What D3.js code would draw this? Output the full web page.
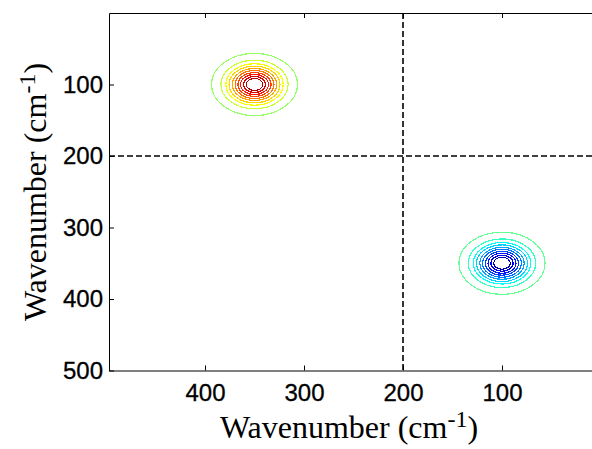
<!DOCTYPE html>
<html><head><meta charset="utf-8">
<script src="https://cdn.jsdelivr.net/npm/d3@7"></script>
<style>body{margin:0;background:#fff}svg{display:block}</style>
</head><body>
<script>
// ---- data ----
const xTicks = [400, 300, 200, 100];
const yTicks = [100, 200, 300, 400, 500];
const peakX = [350, 100];          // wavenumber (horizontal)
const peakY = [100, 350];          // wavenumber (vertical)
const peakSign = [1, -1];          // positive / negative correlation peak
const ringRadii = [43.5, 34, 29, 25.7, 22.4, 19.6, 16.7, 14.1, 11.2, 8.4]; // cm^-1
const ringLevels = [0.048, 0.143, 0.238, 0.333, 0.429, 0.524, 0.619, 0.714, 0.810, 0.905];
const crossX = [200];
const crossY = [200];

const W = 592, H = 449;
const svg = d3.select("body").append("svg").attr("width", W).attr("height", H);

const x = d3.scaleLinear().domain([497, 0]).range([109, 601]);
const y = d3.scaleLinear().domain([0, 500]).range([13, 370.5]);

const jet = d3.scaleLinear()
  .domain([-1, -0.75, -0.25, 0.25, 0.75, 1])
  .range(["#000080", "#0000ff", "#00ffff", "#ffff00", "#ff0000", "#800000"])
  .interpolate(d3.interpolateRgb);

// contour rings
const rings = [];
peakX.forEach((px, i) => {
  ringRadii.forEach((r, j) => {
    rings.push({px, py: peakY[i], r, level: peakSign[i] * ringLevels[j]});
  });
});
svg.append("g").selectAll("ellipse").data(rings).join("ellipse")
  .attr("cx", d => x(d.px))
  .attr("cy", d => y(d.py))
  .attr("rx", d => Math.abs(x(d.px + d.r) - x(d.px)))
  .attr("ry", d => Math.abs(y(d.py + d.r) - y(d.py)))
  .attr("fill", "none")
  .attr("stroke", d => jet(d.level))
  .attr("stroke-width", 1.2)
  .attr("shape-rendering", "crispEdges");

// dashed cross lines
svg.append("g").selectAll("line.v").data(crossX).join("line")
  .attr("x1", d => x(d)).attr("x2", d => x(d))
  .attr("y1", y(0)).attr("y2", y(500))
  .attr("stroke", "#000").attr("stroke-width", 1.6).attr("stroke-dasharray", "6,3");
svg.append("g").selectAll("line.h").data(crossY).join("line")
  .attr("y1", d => y(d)).attr("y2", d => y(d))
  .attr("x1", x(497)).attr("x2", x(0))
  .attr("stroke", "#000").attr("stroke-width", 1.6).attr("stroke-dasharray", "6,3");

// axes
const fontTick = "Arial, 'Liberation Sans', sans-serif";
const gx = svg.append("g").attr("transform", `translate(0,${y(500)})`)
  .call(d3.axisBottom(x).tickValues(xTicks).tickSizeInner(-5).tickSizeOuter(0).tickPadding(13));
const gt = svg.append("g").attr("transform", `translate(0,${y(0)})`)
  .call(d3.axisTop(x).tickValues(xTicks).tickSizeInner(-5).tickSizeOuter(0).tickFormat(""));
const gy = svg.append("g").attr("transform", `translate(${x(497)},0)`)
  .call(d3.axisLeft(y).tickValues(yTicks).tickSizeInner(-5).tickSizeOuter(0).tickPadding(6));
[gx, gt, gy].forEach(g => {
  g.selectAll("path").attr("stroke", "#000").attr("stroke-width", 1);
  g.selectAll("line").attr("stroke", "#000");
  g.selectAll("text").attr("font-family", fontTick).attr("font-size", 24).attr("fill", "#000")
    .attr("stroke", "#000").attr("stroke-width", 0.3);
});

// axis titles
const fontTitle = "'Times New Roman', 'Liberation Serif', serif";
function title(sel) {
  sel.attr("text-anchor", "middle").attr("font-family", fontTitle).attr("font-size", 32).attr("fill", "#000");
  sel.append("tspan").text("Wavenumber (cm");
  sel.append("tspan").attr("font-size", 24).attr("dy", -11).text("-1");
  sel.append("tspan").attr("dy", 11).text(")");
}
svg.append("text").attr("x", 349).attr("y", 438).call(title);
svg.append("text").attr("transform", "translate(46,192) rotate(-90)").call(title);
</script>
</body></html>
